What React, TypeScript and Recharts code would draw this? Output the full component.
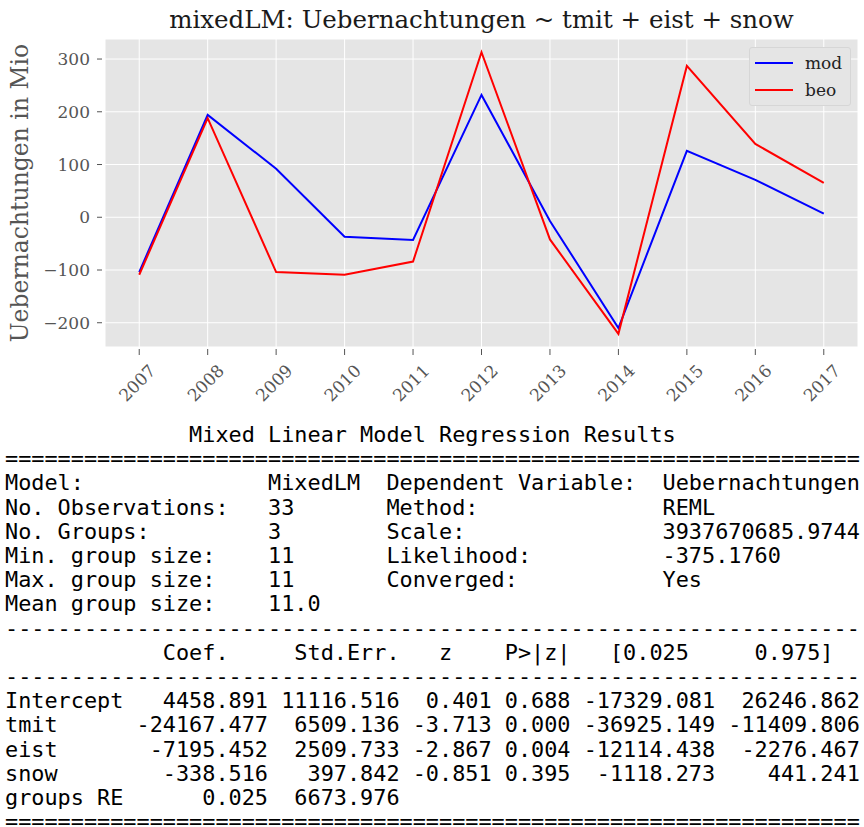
import React from 'react';
import { LineChart, Line, XAxis, YAxis, CartesianGrid, Legend } from 'recharts';

const years = [2007, 2008, 2009, 2010, 2011, 2012, 2013, 2014, 2015, 2016, 2017];
const seriesNames = ['mod', 'beo'];
const modValues = [-104, 194, 92, -37, -43, 232, -7, -210, 126, 71, 7];
const beoValues = [-109, 188, -104, -109, -84, 313, -42, -221, 287, 139, 65];
const yTicks = [-200, -100, 0, 100, 200, 300];

// regression summary text
const infoLeftLabels = ['Model:', 'No. Observations:', 'No. Groups:', 'Min. group size:', 'Max. group size:', 'Mean group size:'];
const infoLeftValues = ['MixedLM', '33', '3', '11', '11', '11.0'];
const infoRightLabels = ['Dependent Variable:', 'Method:', 'Scale:', 'Likelihood:', 'Converged:', ''];
const infoRightValues = ['Uebernachtungen', 'REML', '3937670685.9744', '-375.1760', 'Yes', ''];
const coefHeader = ['Coef.', 'Std.Err.', 'z', 'P>|z|', '[0.025', '0.975]'];
const paramNames = ['Intercept', 'tmit', 'eist', 'snow', 'groups RE'];
const coefs = ['4458.891', '-24167.477', '-7195.452', '-338.516', '0.025'];
const stdErrs = ['11116.516', '6509.136', '2509.733', '397.842', '6673.976'];
const zVals = ['0.401', '-3.713', '-2.867', '-0.851', ''];
const pVals = ['0.688', '0.000', '0.004', '0.395', ''];
const ciLow = ['-17329.081', '-36925.149', '-12114.438', '-1118.273', ''];
const ciHigh = ['26246.862', '-11409.806', '-2276.467', '441.241', ''];

const data = years.map((year, i) => ({ year, mod: modValues[i], beo: beoValues[i] }));

const W = 65;
const headerCols = [12, 22, 33, 38, 46, 57];

function summaryText() {
  const lines: string[] = [];
  const title = 'Mixed Linear Model Regression Results';
  lines.push(' '.repeat(Math.floor((W - title.length) / 2)) + title);
  lines.push('='.repeat(W));
  infoLeftLabels.forEach((l, i) => {
    lines.push((l.padEnd(20) + infoLeftValues[i].padEnd(9) + infoRightLabels[i].padEnd(21) + infoRightValues[i]).trimEnd());
  });
  lines.push('-'.repeat(W));
  let h = '';
  coefHeader.forEach((c, i) => { h = h.padEnd(headerCols[i]) + c; });
  lines.push(h);
  lines.push('-'.repeat(W));
  paramNames.forEach((n, i) => {
    lines.push((n.padEnd(9) + ' ' + coefs[i].padStart(10) + ' ' + stdErrs[i].padStart(9) + ' ' + zVals[i].padStart(6) + ' ' +
      pVals[i].padStart(5) + ' ' + ciLow[i].padStart(10) + ' ' + ciHigh[i].padStart(10)).trimEnd());
  });
  lines.push('='.repeat(W));
  return lines.join('\n');
}

const serif = '"DejaVu Serif", serif';

const XTick = (props: any) => {
  const { x, y, payload } = props;
  return (
    <g>
      <line x1={x} y1={y + 2} x2={x} y2={y + 8} stroke='#555' strokeWidth={1} />
      <text x={x - 2} y={y + 36} textAnchor='middle' dominantBaseline='central' fill='#555' fontSize={17}
        fontFamily={serif} transform={`rotate(-45, ${x - 2}, ${y + 36})`}>{payload.value}</text>
    </g>
  );
};

const YTick = (props: any) => {
  const { x, y, payload } = props;
  return (
    <g>
      <line x1={x - 8} y1={y} x2={x - 3} y2={y} stroke='#555' strokeWidth={1} />
      <text x={x - 15} y={y} textAnchor='end' dominantBaseline='central' fill='#555' fontSize={17} fontFamily={serif}>
        {payload.value < 0 ? '\u2212' + Math.abs(payload.value) : payload.value}
      </text>
    </g>
  );
};

const LegendBox = (props: any) => {
  const items = [...(props.payload || [])].sort((a: any, b: any) => seriesNames.indexOf(a.value) - seriesNames.indexOf(b.value));
  return (
    <div style={{ width: 100, height: 57, background: '#e5e5e5', border: '1px solid #d6d6d6', borderRadius: 3, boxSizing: 'content-box' }}>
      {items.map((e: any, i: number) => (
        <div key={i} style={{ display: 'flex', alignItems: 'center', height: 27, marginTop: i === 0 ? 1 : 0 }}>
          <svg width={55} height={10} style={{ display: 'block' }}>
            <line x1={5} y1={5} x2={43} y2={5} stroke={e.color} strokeWidth={2} />
          </svg>
          <span style={{ fontFamily: serif, fontSize: 17, color: '#222' }}>{e.value}</span>
        </div>
      ))}
    </div>
  );
};

export default function App() {
  return (
    <div style={{ position: 'absolute', left: 0, top: 0, width: 864, height: 827, background: '#fff' }}>
      <div style={{ position: 'absolute', left: 481.5, top: 19, transform: 'translate(-50%, -50%)', whiteSpace: 'nowrap',
        fontFamily: serif, fontSize: 24.5, color: '#1a1a1a' }}>
        mixedLM: Uebernachtungen ~ tmit + eist + snow
      </div>
      <div style={{ position: 'absolute', left: 20, top: 193, transform: 'translate(-50%, -50%) rotate(-90deg)', whiteSpace: 'nowrap',
        fontFamily: serif, fontSize: 23.5, color: '#555' }}>
        Uebernachtungen in Mio
      </div>
      <div style={{ position: 'absolute', left: 0, top: 0 }}>
        <LineChart width={864} height={415} data={data} margin={{ top: 39, right: 6, bottom: 0, left: 0 }}>
          <CartesianGrid fill='#e5e5e5' stroke='#ffffff' strokeWidth={1} />
          <XAxis dataKey='year' type='number' domain={[2006.5, 2017.5]} ticks={years} interval={0}
            axisLine={false} tickLine={false} tickSize={0} tickMargin={0} height={68} tick={<XTick />} />
          <YAxis type='number' domain={[-246, 338]} ticks={yTicks} interval={0}
            axisLine={false} tickLine={false} tickSize={0} tickMargin={0} width={105} tick={<YTick />} />
          <Legend layout='horizontal' verticalAlign='middle' align='center'
            itemSorter={(item: any) => seriesNames.indexOf(item.value)}
            wrapperStyle={{ top: 47, left: 749, width: 102, height: 59 }} content={<LegendBox />} />
          <Line type='linear' dataKey='mod' name='mod' stroke='#0000ff' strokeWidth={2} dot={false} activeDot={false} isAnimationActive={false} />
          <Line type='linear' dataKey='beo' name='beo' stroke='#ff0000' strokeWidth={2} dot={false} activeDot={false} isAnimationActive={false} />
        </LineChart>
      </div>
      <pre style={{ position: 'absolute', left: 5, top: 423, margin: 0, fontFamily: '"DejaVu Sans Mono", monospace',
        fontSize: 21.85, lineHeight: '24.2px', color: '#000' }}>{summaryText()}</pre>
    </div>
  );
}
